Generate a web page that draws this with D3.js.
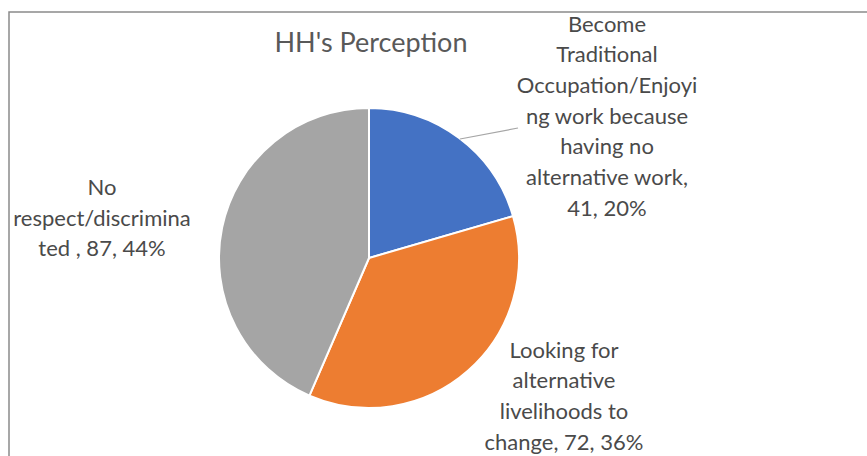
<!DOCTYPE html>
<html>
<head>
<meta charset="utf-8">
<script src="https://cdn.jsdelivr.net/npm/d3@7"></script>
<style>
  html, body { margin: 0; padding: 0; background: #fff; }
  svg { display: block; }
</style>
</head>
<body>
<div id="chart"></div>
<script>
// data
const categories = [
    "Become Traditional Occupation/Enjoying work because having no alternative work",
    "Looking for alternative livelihoods to change",
    "No respect/discriminated"
];
const values = [41, 72, 87];
const percentLabels = ["20%", "36%", "44%"];
// wrapped label lines as they appear in the chart
const labelLines = [
    ["Become", "Traditional", "Occupation/Enjoyi", "ng work because", "having no", "alternative work,", "41, 20%"],
    ["Looking for", "alternative", "livelihoods to", "change, 72, 36%"],
    ["No", "respect/discrimina", "ted , 87, 44%"]
];
const colors = ["#4472C4", "#ED7D31", "#A5A5A5"];

const width = 867, height = 456;
const cx = 369, cy = 258, radius = 150;
const lineH = 30.7;

// label block centres (layout, relative to pie centre)
const labelOffsets = [
    { dx: 238, dy: -142 },
    { dx: 195, dy: 138 },
    { dx: -267, dy: -40 }
];

const svg = d3.select("#chart").append("svg")
    .attr("width", width)
    .attr("height", height);

// frame (only top and left edges are visible in the crop)
svg.append("path")
    .attr("d", `M${9},${height} L${9},${12} L${width},${12}`)
    .attr("fill", "none")
    .attr("stroke", "#8a8a8a")
    .attr("stroke-width", 1.5);

svg.append("text")
    .attr("x", 371)
    .attr("y", 52)
    .attr("text-anchor", "middle")
    .style("font-family", "Lato, 'Open Sans', sans-serif")
    .style("font-size", "27px")
    .style("fill", "#595959")
    .text("HH's Perception");

const pie = d3.pie().sort(null).value(d => d);
const arcs = pie(values);
const arc = d3.arc().innerRadius(0).outerRadius(radius);

const g = svg.append("g").attr("transform", `translate(${cx},${cy})`);

g.selectAll(".slice")
    .data(arcs)
    .enter()
    .append("path")
    .attr("class", "slice")
    .attr("d", arc)
    .style("fill", (d, i) => colors[i])
    .style("stroke", "#fff")
    .style("stroke-width", 2);

// leader line for the first slice
g.append("line")
    .attr("x1", 91)
    .attr("y1", -119)
    .attr("x2", 149)
    .attr("y2", -130)
    .style("stroke", "#a6a6a6")
    .style("stroke-width", 1.2);

const labels = g.selectAll(".label")
    .data(arcs)
    .enter()
    .append("text")
    .attr("class", "label")
    .attr("text-anchor", "middle")
    .style("font-family", "Lato, 'Open Sans', sans-serif")
    .style("font-size", "22px")
    .style("fill", "#4a4a4a");

labels.each(function (d, i) {
    let self = d3.select(this);
    let lines = labelLines[i];
    let off = labelOffsets[i];
    let top = off.dy - (lines.length - 1) * lineH / 2;
    lines.forEach((t, k) => {
        self.append("tspan")
            .attr("x", off.dx)
            .attr("y", top + k * lineH)
            .attr("dy", "0.35em")
            .text(t);
    });
});
</script>
</body>
</html>
